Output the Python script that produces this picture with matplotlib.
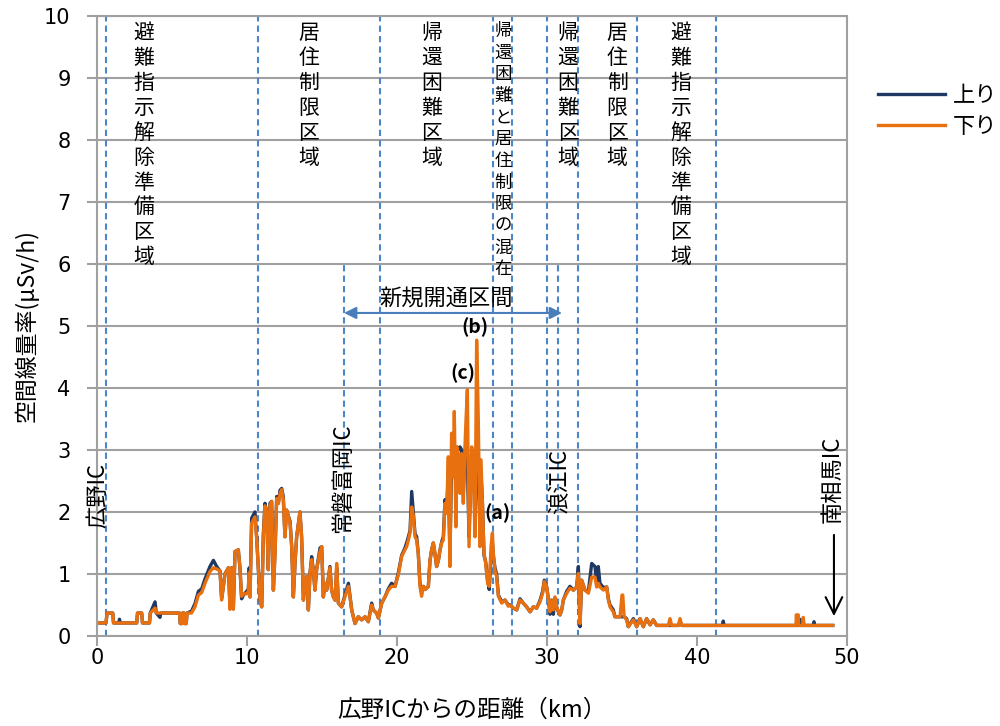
import numpy as np
import matplotlib
matplotlib.use('Agg')
import matplotlib.pyplot as plt

plt.rcParams['font.family'] = ['Noto Sans CJK JP', 'DejaVu Sans']

# distance from Hirono IC (km), dose rate (uSv/h) for down / up lanes
km = [0, 0.6, 0.67, 1.05, 1.1, 1.45, 1.5, 1.55, 2.65, 2.7, 2.98, 3.03, 3.5, 3.55, 3.87, 3.95,
      4.2, 4.25, 5.5, 5.55, 5.65, 5.7, 5.8, 5.85, 5.95, 6.0, 6.3,
      6.53, 6.76, 6.98, 7.2, 7.53, 7.76, 7.98, 8.2, 8.31, 8.53, 8.76, 8.87, 8.98, 9.09, 9.2,
      9.42, 9.53, 9.64, 9.76, 9.98, 10.09, 10.15, 10.2, 10.31, 10.53, 10.64, 10.87, 10.98,
      11.09, 11.2, 11.31, 11.42, 11.53, 11.64, 11.76, 11.87, 11.98, 12.09, 12.2, 12.31, 12.42,
      12.53, 12.64, 12.76, 12.87, 12.98, 13.09, 13.2, 13.31, 13.53, 13.64, 13.76, 13.87, 13.98,
      14.09, 14.2, 14.31, 14.42, 14.53, 14.64, 14.87, 14.98, 15.09, 15.2, 15.31, 15.53, 15.64,
      15.76, 15.87, 15.98, 16.09, 16.31, 16.53, 16.76, 16.87, 16.98, 17.2, 17.42, 17.64, 17.87,
      18.09, 18.31, 18.42, 18.64, 18.76, 18.98, 19.2, 19.42, 19.64, 19.87,
      20.09, 20.31, 20.53, 20.64, 20.76, 20.87, 20.98, 21.09, 21.2, 21.31, 21.42, 21.53, 21.64,
      21.76, 21.87, 22.09, 22.2, 22.31, 22.42, 22.53, 22.64, 22.76, 22.87, 22.98, 23.09, 23.2,
      23.31, 23.42, 23.53, 23.64, 23.76, 23.82, 23.93, 23.98, 24.09, 24.2, 24.31, 24.42, 24.53,
      24.6, 24.69, 24.8, 24.91, 24.98, 25.09, 25.2, 25.31, 25.42, 25.53, 25.6, 25.69, 25.8,
      25.91, 26.04, 26.15, 26.27, 26.36, 26.42, 26.53, 26.64, 26.76, 26.98, 27.2, 27.42,
      27.53, 27.76, 27.98, 28.2, 28.42, 28.64, 28.87, 29.09, 29.31, 29.53, 29.71, 29.82, 29.98,
      30.09, 30.2, 30.31, 30.42, 30.53, 30.64, 30.76, 30.87, 30.98, 31.09, 31.31, 31.53, 31.76,
      31.98, 32.09, 32.2, 32.31, 32.53, 32.76, 32.98, 33.2, 33.31, 33.42, 33.53, 33.76, 33.98,
      34.09, 34.2, 34.42, 34.53, 34.87, 35.0, 35.05, 35.14, 35.31, 35.42, 35.76, 35.98, 36.2,
      36.42, 36.64, 36.87, 37.09, 37.31, 38.09, 38.2, 38.31, 38.76, 38.87, 38.98, 41.7, 41.75,
      41.8, 46.6, 46.62, 46.75, 46.78, 46.85, 46.9, 47.05, 47.08, 47.15, 47.75, 47.8, 47.85, 49.05]

down = [0.21, 0.21, 0.37, 0.37, 0.21, 0.21, 0.21, 0.21, 0.21, 0.37, 0.37, 0.21, 0.21, 0.37, 0.45, 0.37,
        0.37, 0.37, 0.37, 0.2, 0.2, 0.37, 0.37, 0.2, 0.2, 0.37, 0.37,
        0.47, 0.66, 0.7, 0.85, 1.04, 1.1, 1.08, 1.05, 0.58, 1.0, 1.1, 0.43, 1.1, 0.43, 1.36,
        1.39, 1.1, 0.64, 0.68, 0.68, 0.72, 1.02, 0.63, 1.82, 1.92, 1.6, 0.58, 0.47,
        1.6, 2.1, 2.0, 1.07, 2.1, 2.17, 0.74, 1.33, 2.22, 2.14, 2.3, 2.36, 2.2,
        1.6, 2.03, 1.93, 1.82, 1.44, 0.63, 1.17, 1.6, 2.0, 1.6, 0.58, 0.9, 0.96,
        0.42, 1.01, 1.23, 1.07, 0.74, 1.07, 1.36, 1.44, 0.63, 0.85, 0.74, 1.1, 0.74,
        0.63, 0.58, 1.17, 0.53, 0.47, 0.63, 0.8, 0.63, 0.42, 0.2, 0.31, 0.26, 0.31,
        0.23, 0.5, 0.42, 0.37, 0.29, 0.53, 0.63, 0.74, 0.8, 0.8,
        0.99, 1.28, 1.39, 1.44, 1.55, 1.66, 2.08, 1.93, 1.6, 1.55, 1.33, 0.8, 0.64,
        0.8, 0.75, 0.8, 1.22, 1.39, 1.5, 1.33, 1.12, 1.22, 1.39, 1.5, 1.55, 2.14,
        1.98, 2.89, 1.12, 3.27, 2.57, 3.62, 1.76, 3.05, 2.94, 2.3, 2.94, 2.14, 3.05,
        3.48, 3.97, 1.44, 2.41, 3.05, 2.73, 1.6, 4.77, 3.48, 1.44, 2.84, 2.14, 1.33,
        1.17, 0.85, 0.8, 1.44, 1.66, 1.33, 1.06, 0.96, 0.64, 0.53, 0.58, 0.48,
        0.5, 0.45, 0.42, 0.58, 0.53, 0.47, 0.39, 0.47, 0.45, 0.55, 0.69, 0.88, 0.79,
        0.58, 0.39, 0.58, 0.42, 0.63, 0.47, 0.39, 0.34, 0.42, 0.58, 0.69, 0.77, 0.74,
        0.79, 1.01, 0.2, 0.9, 0.74, 0.69, 0.95, 0.95, 0.79, 0.85, 0.79, 0.74, 0.79,
        0.58, 0.47, 0.39, 0.31, 0.31, 0.66, 0.66, 0.31, 0.26, 0.15, 0.26, 0.15, 0.28,
        0.15, 0.28, 0.18, 0.26, 0.17, 0.17, 0.28, 0.17, 0.17, 0.28, 0.17, 0.17, 0.17,
        0.17, 0.17, 0.34, 0.34, 0.17, 0.17, 0.17, 0.17, 0.3, 0.17, 0.17, 0.17, 0.17, 0.17]

up = [0.21, 0.21, 0.37, 0.37, 0.21, 0.21, 0.27, 0.21, 0.21, 0.37, 0.37, 0.21, 0.21, 0.37, 0.55, 0.37,
      0.3, 0.37, 0.37, 0.2, 0.2, 0.37, 0.37, 0.2, 0.2, 0.37, 0.4,
      0.52, 0.72, 0.76, 0.92, 1.12, 1.22, 1.12, 1.05, 0.6, 1.0, 1.1, 0.45, 1.1, 0.45, 1.36,
      1.39, 1.1, 0.6, 0.66, 0.72, 0.76, 1.1, 0.63, 1.9, 2.0, 1.6, 0.58, 0.47,
      1.65, 2.14, 2.0, 1.07, 2.14, 2.17, 0.74, 1.38, 2.25, 2.14, 2.35, 2.38, 2.25,
      1.6, 2.03, 1.93, 1.85, 1.44, 0.63, 1.17, 1.6, 2.0, 1.6, 0.58, 0.9, 0.96,
      0.42, 1.01, 1.28, 1.07, 0.74, 1.07, 1.42, 1.44, 0.63, 0.85, 0.74, 1.12, 0.74,
      0.63, 0.58, 1.1, 0.53, 0.47, 0.66, 0.85, 0.63, 0.42, 0.2, 0.31, 0.26, 0.31,
      0.23, 0.53, 0.42, 0.37, 0.29, 0.53, 0.63, 0.76, 0.85, 0.8,
      1.02, 1.3, 1.42, 1.5, 1.6, 1.7, 2.33, 1.98, 1.65, 1.6, 1.33, 0.85, 0.7,
      0.8, 0.75, 0.8, 1.22, 1.39, 1.5, 1.33, 1.12, 1.22, 1.39, 1.52, 1.6, 2.2,
      2.0, 2.6, 1.3, 2.8, 2.7, 2.9, 2.4, 3.05, 3.0, 3.05, 3.0, 2.3, 3.0,
      2.9, 2.8, 1.6, 2.5, 3.0, 2.9, 1.8, 2.9, 3.0, 1.6, 2.6, 2.2, 1.3,
      1.2, 0.9, 0.75, 1.3, 1.5, 1.3, 1.1, 1.0, 0.66, 0.55, 0.58, 0.5,
      0.5, 0.45, 0.42, 0.6, 0.53, 0.47, 0.39, 0.47, 0.45, 0.57, 0.72, 0.9, 0.79,
      0.6, 0.35, 0.58, 0.35, 0.6, 0.47, 0.39, 0.34, 0.42, 0.58, 0.72, 0.8, 0.74,
      0.79, 1.12, 0.15, 0.9, 0.74, 0.72, 1.17, 1.12, 0.85, 1.12, 0.85, 0.78, 0.79,
      0.6, 0.5, 0.42, 0.31, 0.31, 0.31, 0.31, 0.31, 0.28, 0.15, 0.28, 0.15, 0.28,
      0.15, 0.28, 0.18, 0.26, 0.17, 0.17, 0.17, 0.17, 0.17, 0.24, 0.17, 0.17, 0.24,
      0.17, 0.17, 0.17, 0.17, 0.17, 0.27, 0.17, 0.17, 0.17, 0.17, 0.17, 0.23, 0.17, 0.17]

zone_lines = [0.6, 10.73, 18.87, 26.4, 27.67, 30.0, 32.07, 36.0, 41.27]
ic_lines = [16.47, 30.73]
zone_names = ['避難指示解除準備区域', '居住制限区域', '帰還困難区域', '帰還困難と居住制限の混在',
              '帰還困難区域', '居住制限区域', '避難指示解除準備区域']
zone_x = [3.13, 14.13, 22.33, 27.07, 31.4, 34.67, 38.93]
ic_names = ['広野IC', '常磐富岡IC', '浪江IC', '南相馬IC']
ic_x = [0.07, 16.4, 30.87, 49.0]
ic_y = [2.26, 2.55, 2.5, 2.53]

fig = plt.figure(figsize=(10, 7.26), dpi=100)
ax = fig.add_axes([0.097, 0.124, 0.75, 0.854])

ax.plot(km, up, color='#1f3864', lw=2.4, label='上り')
ax.plot(km, down, color='#e8700f', lw=2.4, label='下り')

ax.set_xlim(0, 50)
ax.set_ylim(0, 10)
ax.set_xticks(range(0, 51, 10))
ax.set_yticks(range(0, 11))
ax.yaxis.grid(True, color='#a0a0a0', lw=1.5)
ax.set_axisbelow(True)
for s in ax.spines.values():
    s.set_color('#a0a0a0')
    s.set_linewidth(1.5)
ax.tick_params(color='#a0a0a0', length=7, width=1.5, labelsize=15)
ax.tick_params(axis='y', pad=12)
ax.tick_params(axis='x', pad=2)
for lab in ax.get_xticklabels() + ax.get_yticklabels():
    lab.set_family('DejaVu Sans')

for x in zone_lines:
    ax.axvline(x, color='#4a86c8', ls=(0, (3, 2)), lw=1.5, zorder=1)
for x in ic_lines:
    ax.plot([x, x], [0, 6], color='#4a86c8', ls=(0, (3, 2)), lw=1.5, zorder=1)

for name, x in zip(zone_names, zone_x):
    small = len(name) > 10
    ax.text(x, 9.9, '\n'.join(name), ha='center', va='top',
            fontsize=12.5 if small else 15, linespacing=1.26 if small else 1.17)

for name, x, y in zip(ic_names, ic_x, ic_y):
    ax.text(x, y, name, rotation=90, ha='center', va='center', fontsize=16)

ax.annotate('', xy=(31.0, 5.21), xytext=(16.47, 5.21),
            arrowprops=dict(arrowstyle='<|-|>', color='#4a7ebb', lw=1.5,
                            mutation_scale=18, shrinkA=0, shrinkB=0))
ax.text(23.3, 5.45, '新規開通区間', ha='center', va='center', fontsize=16)

ax.annotate('', xy=(49.13, 0.32), xytext=(49.13, 1.63),
            arrowprops=dict(arrowstyle='->', color='black', lw=1.5,
                            mutation_scale=30, shrinkA=0, shrinkB=0))

ax.text(26.67, 1.98, '(a)', ha='center', va='center', fontsize=14, fontweight='bold')
ax.text(25.2, 4.98, '(b)', ha='center', va='center', fontsize=14, fontweight='bold')
ax.text(24.4, 4.24, '(c)', ha='center', va='center', fontsize=14, fontweight='bold')

ax.set_ylabel('空間線量率(μSv/h)', fontsize=16.5, labelpad=4)
ax.set_xlabel('広野ICからの距離（km）', fontsize=17, labelpad=22)

ax.legend(loc='upper left', bbox_to_anchor=(1.03, 0.905), frameon=False, fontsize=16,
          handlelength=3.0, borderaxespad=0, labelspacing=0.35, handletextpad=0.35)

fig.savefig('out.png', dpi=100)
